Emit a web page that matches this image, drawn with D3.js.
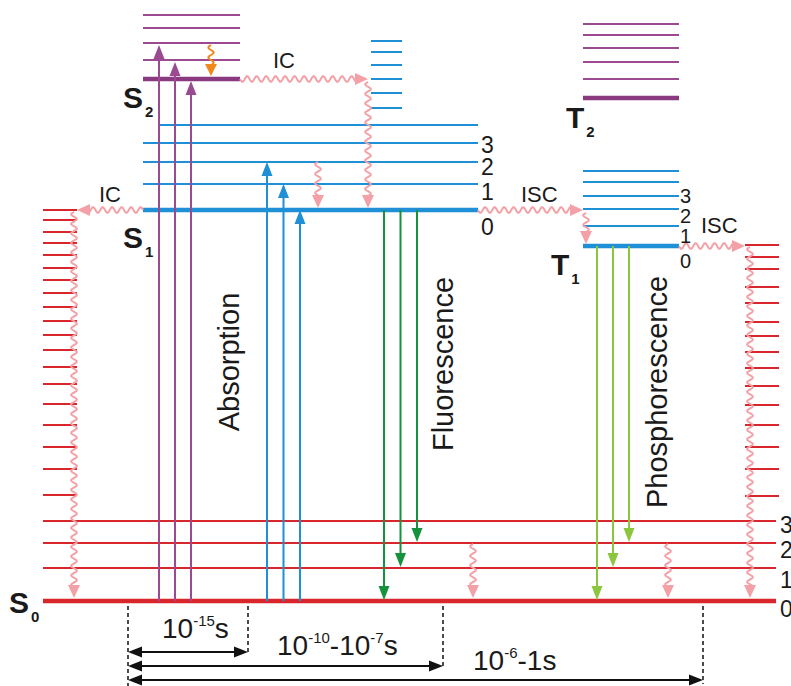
<!DOCTYPE html>
<html>
<head>
<meta charset="utf-8">
<script src="https://cdn.jsdelivr.net/npm/d3@7"></script>
<style>
  html, body { margin: 0; padding: 0; background: #fff; }
  svg { display: block; font-family: Arial, "Liberation Sans", sans-serif; }
</style>
</head>
<body>
<div id="chart"></div>
<script>
const params = { width: 791, height: 686 };

// Data ///////////////////////////////////////////////////////////////////////
// energies in arbitrary units, S0 v=0 is 0

const s0Levels = [0, 33, 58, 80];
const s0LadderLeft = [391, 381, 369, 358, 346, 333, 321, 308, 294, 280, 266, 251, 234, 217, 197, 176, 154, 132, 106];
const s0LadderRight = [356, 344, 332, 314, 298, 279, 265, 249, 233, 215, 196, 176, 154, 132, 105];
const s1Levels = [391, 417, 439, 458, 476];
const s1Upper = [493, 508, 522, 536, 549, 560];
const s2Levels = [522, 541, 558, 573, 586];
const t1Levels = [355, 375, 392, 405, 419, 430];
const t2Levels = [503, 522, 539, 553, 566, 577];

const vibLabels = ["0", "1", "2", "3"];

const absorptionS2 = [2, 1, 0];      // S0 v0 -> S2 v
const absorptionS1 = [2, 1, 0];      // S0 v0 -> S1 v
const fluorescence = [0, 1, 2];      // S1 v0 -> S0 v
const phosphorescence = [0, 1, 2];   // T1 v0 -> S0 v

const processNames = ["Absorption", "Fluorescence", "Phosphorescence"];
const timescales = [
    { base: "10", exp: "-15", tail: "s" },
    { base: "10", exp: "-10", tail: "-10", exp2: "-7", tail2: "s" },
    { base: "10", exp: "-6", tail: "-1s" }
];

// Scales /////////////////////////////////////////////////////////////////////

const x = d3.scaleLinear().domain([0, params.width]).range([0, params.width]);
const y = d3.scaleLinear().domain([0, 601]).range([601, 0]);

const colors = {
    purple: "#9b4a92",
    purpleDark: "#8a3a7e",
    blue: "#1f8fd6",
    red: "#d8262c",
    green: "#16923f",
    lime: "#8cc63f",
    orange: "#f0891c",
    pink: "#f3a1a6"
};

const svg = d3.select("#chart").append("svg")
    .attr("width", params.width)
    .attr("height", params.height)
    .attr("viewBox", [0, 0, params.width, params.height]);

// Levels /////////////////////////////////////////////////////////////////////

function addLevels(g, levels, x0, x1, color, thickFirst, thickColor) {
    g.append("g")
        .selectAll("line")
        .data(levels)
        .join("line")
        .attr("x1", x(x0))
        .attr("x2", x(x1))
        .attr("y1", d => y(d))
        .attr("y2", d => y(d))
        .attr("stroke", (d, i) => (thickFirst && i === 0 && thickColor) ? thickColor : color)
        .attr("stroke-width", (d, i) => (thickFirst && i === 0) ? 4.5 : 2);
}

const levels = svg.append("g");
addLevels(levels, s0Levels, 43, 776, colors.red, true);
addLevels(levels, s0LadderLeft, 43, 77, colors.red, false);
addLevels(levels, s0LadderRight, 745, 779, colors.red, false);
addLevels(levels, s1Levels.slice(0, 4), 143, 478, colors.blue, true);
addLevels(levels, s1Levels.slice(4), 160, 478, colors.blue, false);
addLevels(levels, s1Upper, 371, 402, colors.blue, false);
addLevels(levels, s2Levels, 143, 240, colors.purple, true, colors.purpleDark);
addLevels(levels, t1Levels, 583, 679, colors.blue, true);
addLevels(levels, t2Levels, 583, 679, colors.purple, true, colors.purpleDark);

// Arrows /////////////////////////////////////////////////////////////////////

function headPath(x2, y2, ux, uy, len, half) {
    const bx = x2 - ux * len, by = y2 - uy * len;
    return `M${x2},${y2}L${bx - uy * half},${by + ux * half}L${bx + uy * half},${by - ux * half}Z`;
}

function straightArrow(g, x1, y1, x2, y2, color) {
    const L = Math.hypot(x2 - x1, y2 - y1);
    const ux = (x2 - x1) / L, uy = (y2 - y1) / L;
    g.append("line")
        .attr("x1", x1).attr("y1", y1)
        .attr("x2", x2 - ux * 8).attr("y2", y2 - uy * 8)
        .attr("stroke", color)
        .attr("stroke-width", 2);
    g.append("path")
        .attr("d", headPath(x2, y2, ux, uy, 14, 5.5))
        .attr("fill", color);
}

function wavyArrow(g, x1, y1, x2, y2, color, amp = 2.8, wl = 9.5, head = 13) {
    const L = Math.hypot(x2 - x1, y2 - y1);
    const ux = (x2 - x1) / L, uy = (y2 - y1) / L;
    const nx = -uy, ny = ux;
    const pts = d3.range(0, L - head + 3, 0.5).map(t => {
        const off = amp * Math.sin(2 * Math.PI * t / wl);
        return [x1 + ux * t + nx * off, y1 + uy * t + ny * off];
    });
    g.append("path")
        .attr("d", d3.line()(pts))
        .attr("fill", "none")
        .attr("stroke", color)
        .attr("stroke-width", 2);
    g.append("path")
        .attr("d", headPath(x2, y2, ux, uy, head, 6))
        .attr("fill", color);
}

const arrows = svg.append("g");

absorptionS2.forEach((v, i) =>
    straightArrow(arrows, x(159 + i * 16), y(s0Levels[0]), x(159 + i * 16), y(s2Levels[v]) + 2, colors.purple));
absorptionS1.forEach((v, i) =>
    straightArrow(arrows, x(267 + i * 16.5), y(s0Levels[0]), x(267 + i * 16.5), y(s1Levels[v]), colors.blue));
fluorescence.forEach((v, i) =>
    straightArrow(arrows, x(384 + i * 16.5), y(s1Levels[0]), x(384 + i * 16.5), y(s0Levels[v]) - 1, colors.green));
phosphorescence.forEach((v, i) =>
    straightArrow(arrows, x(597 + i * 16), y(t1Levels[0]), x(597 + i * 16), y(s0Levels[v]) - 1, colors.lime));

// non-radiative
wavyArrow(arrows, x(211), y(s2Levels[2]) + 2, x(211), y(s2Levels[0]) - 3, colors.orange, 2.6, 10, 12);
wavyArrow(arrows, x(240), y(s2Levels[0]), x(368), y(s2Levels[0]), colors.pink);
wavyArrow(arrows, x(368), y(s2Levels[0]) + 3, x(368), y(s1Levels[0]) - 2, colors.pink);
wavyArrow(arrows, x(318), y(s1Levels[2]), x(318), y(s1Levels[0]) - 2, colors.pink);
wavyArrow(arrows, x(143), y(s1Levels[0]), x(77), y(s1Levels[0]), colors.pink);
wavyArrow(arrows, x(74), y(s0LadderLeft[0]) + 2, x(74), y(s0Levels[0]) - 3, colors.pink);
wavyArrow(arrows, x(478), y(s1Levels[0]), x(583), y(s1Levels[0]), colors.pink);
wavyArrow(arrows, x(586), y(s1Levels[0]) + 3, x(586), y(t1Levels[0]) - 2, colors.pink);
wavyArrow(arrows, x(679), y(t1Levels[0]), x(745), y(t1Levels[0]), colors.pink);
wavyArrow(arrows, x(750), y(s0LadderRight[0]) + 2, x(750), y(s0Levels[0]) - 3, colors.pink);
wavyArrow(arrows, x(473), y(s0Levels[2]) + 1, x(473), y(s0Levels[0]) - 3, colors.pink);
wavyArrow(arrows, x(668), y(s0Levels[2]) + 1, x(668), y(s0Levels[0]) - 3, colors.pink);

// Labels /////////////////////////////////////////////////////////////////////

const labels = svg.append("g").attr("fill", "#1a1a1a");

function stateLabel(letter, sub, lx, ly) {
    const t = labels.append("text")
        .attr("x", lx)
        .attr("y", ly)
        .attr("font-size", 30)
        .attr("font-weight", "bold")
        .text(letter);
    t.append("tspan")
        .attr("font-size", 15)
        .attr("dy", 9)
        .attr("dx", 2)
        .text(sub);
}

stateLabel("S", "2", 123, 108);
stateLabel("S", "1", 123, 248);
stateLabel("S", "0", 9, 613);
stateLabel("T", "2", 566, 128);
stateLabel("T", "1", 551, 275);

const vibText = (items, size) => labels.append("g")
    .attr("font-size", size)
    .selectAll("text")
    .data(items)
    .join("text")
    .attr("x", d => d.x)
    .attr("y", d => d.y)
    .text(d => d.t);

vibText(vibLabels.map((t, i) => ({ t, x: 481, y: [235, 200, 175, 153][i] })), 23);
vibText(vibLabels.map((t, i) => ({ t, x: 680, y: [268, 243, 223, 203][i] })), 20);
vibText(vibLabels.map((t, i) => ({ t, x: 780, y: [617, 588, 558, 533][i] })), 23);

labels.append("g")
    .attr("font-size", 29)
    .selectAll("text")
    .data(processNames)
    .join("text")
    .attr("text-anchor", "middle")
    .attr("transform", (d, i) => `translate(${[239, 453, 667][i]},${[362, 364, 392][i]}) rotate(-90)`)
    .text(d => d);

labels.append("g").attr("font-size", 22)
    .selectAll("text")
    .data([
        { t: "IC", x: 99, y: 202 },
        { t: "IC", x: 273, y: 68 },
        { t: "ISC", x: 521, y: 202 },
        { t: "ISC", x: 701, y: 233 }
    ])
    .join("text")
    .attr("x", d => d.x)
    .attr("y", d => d.y)
    .text(d => d.t);

// Time scales ////////////////////////////////////////////////////////////////

const timeline = svg.append("g");

const dashes = [
    { x: 128, y2: 686 },
    { x: 248, y2: 655 },
    { x: 443, y2: 668 },
    { x: 703, y2: 684 }
];
timeline.selectAll("line.dash")
    .data(dashes)
    .join("line")
    .attr("class", "dash")
    .attr("x1", d => x(d.x)).attr("x2", d => x(d.x))
    .attr("y1", 606).attr("y2", d => d.y2)
    .attr("stroke", "#111")
    .attr("stroke-width", 1.5)
    .attr("stroke-dasharray", "4,3");

const spans = [
    { x1: 128, x2: 248, y: 652 },
    { x1: 128, x2: 443, y: 666 },
    { x1: 128, x2: 703, y: 680 }
];
spans.forEach(s => {
    timeline.append("line")
        .attr("x1", x(s.x1) + 8).attr("x2", x(s.x2) - 8)
        .attr("y1", s.y).attr("y2", s.y)
        .attr("stroke", "#111").attr("stroke-width", 2);
    timeline.append("path").attr("d", headPath(x(s.x2), s.y, 1, 0, 14, 5.5)).attr("fill", "#111");
    timeline.append("path").attr("d", headPath(x(s.x1), s.y, -1, 0, 14, 5.5)).attr("fill", "#111");
});

const timePos = [{ x: 162, y: 638 }, { x: 277, y: 655 }, { x: 473, y: 670 }];
timescales.forEach((d, i) => {
    const t = timeline.append("text")
        .attr("x", timePos[i].x)
        .attr("y", timePos[i].y)
        .attr("font-size", 28)
        .attr("fill", "#1a1a1a")
        .text(d.base);
    t.append("tspan").attr("font-size", 15).attr("dy", -12).text(d.exp);
    t.append("tspan").attr("dy", 12).text(d.tail);
    if (d.exp2) {
        t.append("tspan").attr("font-size", 15).attr("dy", -12).text(d.exp2);
        t.append("tspan").attr("dy", 12).text(d.tail2);
    }
});
</script>
</body>
</html>
